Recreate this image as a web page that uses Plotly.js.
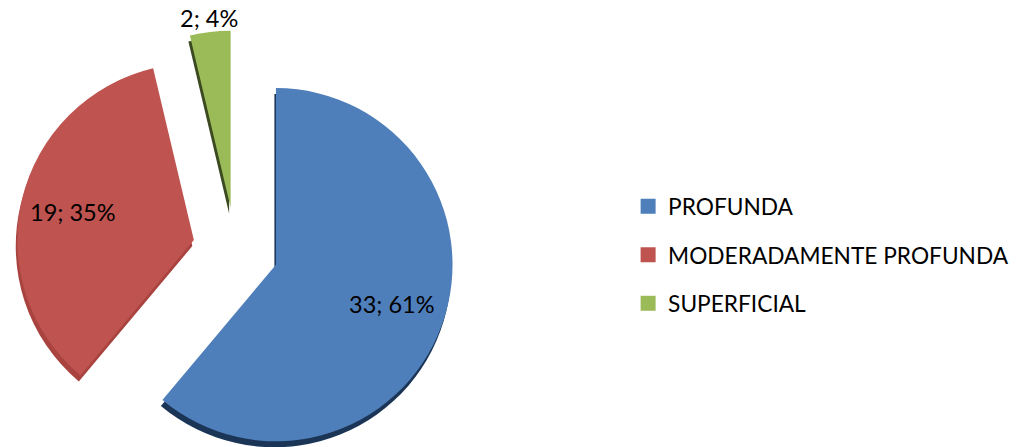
<!DOCTYPE html>
<html><head><meta charset="utf-8">
<script src="https://cdn.plot.ly/plotly-3.0.1.min.js"></script>
<style>html,body{margin:0;padding:0;background:#fff;overflow:hidden;width:1018px;height:447px}#c{width:1018px;height:500px}</style>
</head><body><div id="c"></div>
<script>
const categories = ["PROFUNDA", "MODERADAMENTE PROFUNDA", "SUPERFICIAL"];
const counts = [33, 19, 2];
const percents = [61, 35, 4];
const colors = ["#4f7fba", "#be534f", "#9bbb59"];
const sideColors = ["#1b3557", "#a8433f", "#3b4a20"];
const labelX = [391.5, 72.5, 209];
const labelY = [304, 212, 18];
const explode = 0.243;
const fontFamily = "Lato, 'Open Sans', sans-serif";
const W = 1018, H = 500;

const pieBase = {
  type: "pie", labels: categories, values: counts, sort: false,
  direction: "clockwise", rotation: 0, pull: explode,
  showlegend: false, hoverinfo: "skip", textinfo: "none"
};
const side = Object.assign({}, pieBase, {
  domain: {x: [0.0138, 0.4461], y: [0.049, 0.927]},
  marker: {colors: sideColors, line: {width: 0}}
});
const top_ = Object.assign({}, pieBase, {
  domain: {x: [0.0153, 0.4476], y: [0.061, 0.939]},
  marker: {colors: colors, line: {width: 0}}
});
const legendTraces = categories.map((c, i) => ({
  type: "scatter", mode: "markers", x: [null], y: [null], name: c,
  legendgroup: c, showlegend: true, hoverinfo: "skip",
  marker: {symbol: "square", size: 15, color: colors[i], line: {width: 0}}
}));
const labels = categories.map((c, i) => ({
  xref: "paper", yref: "paper", xanchor: "center", yanchor: "middle",
  x: labelX[i] / W, y: 1 - labelY[i] / H, showarrow: false,
  text: counts[i] + "; " + percents[i] + "%",
  font: {family: fontFamily, size: 23.5, color: "#000"}
}));

Plotly.newPlot("c", [side, top_].concat(legendTraces), {
  width: W, height: H,
  margin: {l: 0, r: 0, t: 0, b: 0},
  paper_bgcolor: "#fff", plot_bgcolor: "#fff",
  xaxis: {visible: false}, yaxis: {visible: false},
  annotations: labels,
  showlegend: true,
  legend: {
    x: 0.617, xanchor: "left", y: 0.49, yanchor: "middle",
    font: {family: fontFamily, size: 22.7, color: "#000"},
    tracegroupgap: 16, itemclick: false, itemdoubleclick: false,
    bgcolor: "rgba(0,0,0,0)"
  }
}, {staticPlot: true, displayModeBar: false});
</script></body></html>
